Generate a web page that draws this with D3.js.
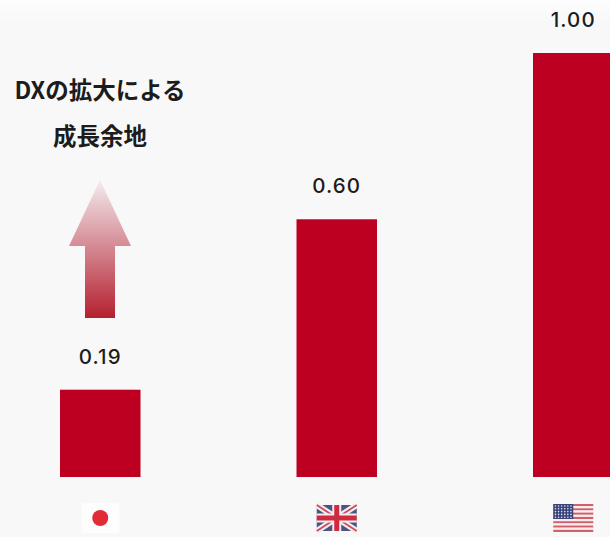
<!DOCTYPE html>
<html lang="ja">
<head>
<meta charset="utf-8">
<script src="https://cdn.jsdelivr.net/npm/d3@7/dist/d3.min.js"></script>
<style>
  html, body { margin: 0; padding: 0; background: #f8f8f8; overflow: hidden; }
  svg { display: block; }
</style>
</head>
<body>
<svg id="chart" width="610" height="537"></svg>
<script>
// DX productivity index by country
const countries = ["日本", "イギリス", "アメリカ"];
const flagCodes = ["jp", "gb", "us"];
const values = [0.19, 0.60, 1.00];
const valueLabels = ["0.19", "0.60", "1.00"];
const calloutLines = ["DXの拡大による", "成長余地"];

const width = 610, height = 537;
const barRed = "#bd0022";

const svg = d3.select("#chart");
const defs = svg.append("defs");

// Light band along the top edge
const topGlow = defs.append("linearGradient")
  .attr("id", "topGlow").attr("x1", 0).attr("x2", 0).attr("y1", 0).attr("y2", 1);
topGlow.append("stop").attr("offset", 0).attr("stop-color", "#fdfdfd");
topGlow.append("stop").attr("offset", 1).attr("stop-color", "#f8f8f8");
svg.append("rect").attr("width", width).attr("height", 22).attr("fill", "url(#topGlow)");

// Scales: bars stand on a baseline a little below zero
const x = d3.scaleBand().domain(countries).range([60, 613.5]).paddingInner(0.6596).paddingOuter(0);
const baseValue = -0.02;
const y = d3.scaleLinear().domain([baseValue, 1]).range([477, 53]);

svg.append("g").selectAll("rect")
  .data(values)
  .join("rect")
  .attr("x", (d, i) => x(countries[i]))
  .attr("y", d => y(d))
  .attr("width", x.bandwidth())
  .attr("height", d => y(baseValue) - y(d))
  .attr("fill", barRed);

svg.append("g").selectAll("text")
  .data(valueLabels)
  .join("text")
  .attr("x", (d, i) => x(countries[i]) + x.bandwidth() / 2)
  .attr("y", (d, i) => y(values[i]) - 26)
  .attr("text-anchor", "middle")
  .attr("font-family", "Inter, 'Noto Sans', sans-serif")
  .attr("font-size", 20.5)
  .attr("font-weight", 500)
  .attr("letter-spacing", 1.1)
  .attr("fill", "#1c1c1c")
  .text(d => d);

// Callout above the first bar
svg.append("g").selectAll("text")
  .data(calloutLines)
  .join("text")
  .attr("x", 100)
  .attr("y", (d, i) => 99 + i * 46)
  .attr("text-anchor", "middle")
  .attr("font-family", "'Noto Sans CJK JP', sans-serif")
  .attr("font-size", 23.5)
  .attr("font-weight", 700)
  .attr("fill", "#1c1c1c")
  .text(d => d);

const arrowFill = defs.append("linearGradient")
  .attr("id", "arrowFill").attr("gradientUnits", "userSpaceOnUse")
  .attr("x1", 0).attr("x2", 0).attr("y1", 318).attr("y2", 180);
arrowFill.append("stop").attr("offset", 0).attr("stop-color", "#b4202e");
arrowFill.append("stop").attr("offset", 0.5).attr("stop-color", "#d48690");
arrowFill.append("stop").attr("offset", 1).attr("stop-color", "#f3ecee");

svg.append("path")
  .attr("d", d3.line()([[100, 180], [131, 246], [115, 246], [115, 318], [85, 318], [85, 246], [69, 246]]) + "Z")
  .attr("fill", "url(#arrowFill)");

// Flags under each bar
const flagGroups = svg.append("g").selectAll("g")
  .data(flagCodes)
  .join("g")
  .attr("transform", (d, i) => `translate(${x(countries[i]) + x.bandwidth() / 2},518)`);

const drawers = {
  jp(g) {
    g.append("rect").attr("x", -19).attr("y", -15).attr("width", 38).attr("height", 30).attr("fill", "#fdfdfd").attr("rx", 3);
    g.append("circle").attr("r", 8).attr("fill", "#e12b35");
  },
  gb(g) {
    const w = 20, h = 13;
    g.append("rect").attr("x", -w).attr("y", -h).attr("width", 2 * w).attr("height", 2 * h).attr("fill", "#4a5580");
    g.append("path").attr("d", `M${-w},${-h}L${w},${h}M${w},${-h}L${-w},${h}`).attr("stroke", "#f4eef0").attr("stroke-width", 6);
    g.append("path").attr("d", `M${-w},${-h}L${w},${h}M${w},${-h}L${-w},${h}`).attr("stroke", "#d04a5c").attr("stroke-width", 1.8);
    g.append("path").attr("d", `M0,${-h}V${h}M${-w},0H${w}`).attr("stroke", "#f4eef0").attr("stroke-width", 9);
    g.append("path").attr("d", `M0,${-h}V${h}M${-w},0H${w}`).attr("stroke", "#cf2a3e").attr("stroke-width", 5);
  },
  us(g) {
    const w = 20, h = 14, stripes = d3.range(13);
    const sy = d3.scaleBand().domain(stripes).range([-h, h]);
    g.selectAll(".stripe").data(stripes).join("rect")
      .attr("x", -w).attr("y", d => sy(d)).attr("width", 2 * w).attr("height", sy.bandwidth())
      .attr("fill", d => d % 2 ? "#f8eeee" : "#d0606c");
    g.append("rect").attr("x", -w).attr("y", -h).attr("width", 20).attr("height", 15).attr("fill", "#38427c");
    const cols = d3.range(6), rows = d3.range(5);
    g.selectAll(".star").data(d3.cross(cols, rows)).join("circle")
      .attr("cx", d => -w + 2.2 + d[0] * 3.1)
      .attr("cy", d => -h + 2 + d[1] * 2.8)
      .attr("r", 0.8).attr("fill", "#e4e4f0");
  }
};
flagGroups.each(function(code) { drawers[code](d3.select(this)); });
</script>
</body>
</html>
